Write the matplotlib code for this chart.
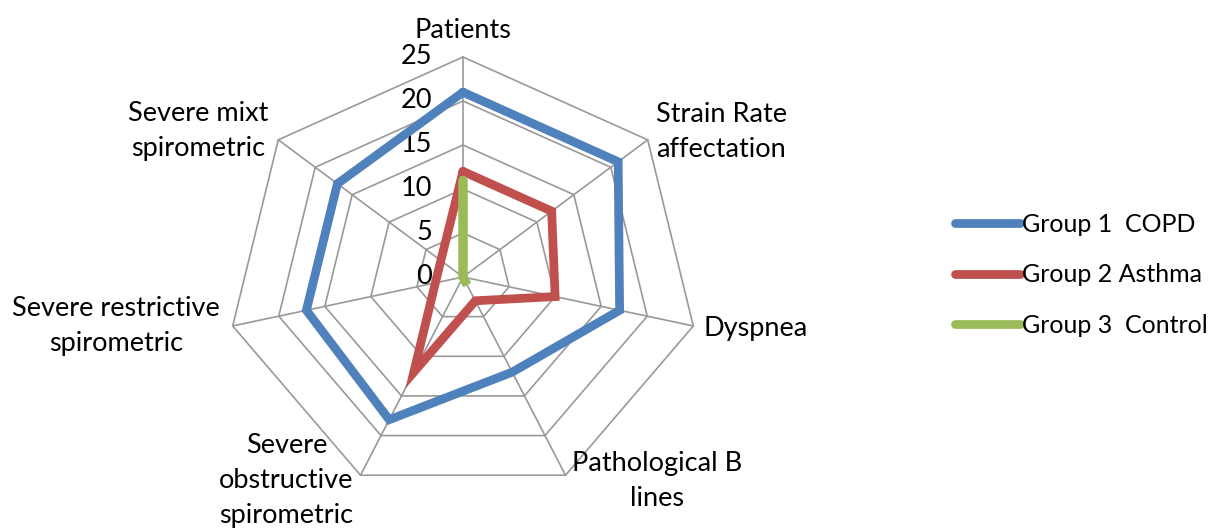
import numpy as np
import matplotlib
matplotlib.use("Agg")
import matplotlib.pyplot as plt

categories = ["Patients", "Strain Rate\naffectation", "Dyspnea",
              "Pathological B\nlines", "Severe\nobstructive\nspirometric",
              "Severe restrictive\nspirometric", "Severe mixt\nspirometric"]
copd = [21, 21, 17, 12, 18, 17, 17]
asthma = [12, 12, 10, 3, 12, 3, 3]
control = [11, 0, 0, 1, 0, 0, 0]
series_names = ["Group 1  COPD", "Group 2 Asthma", "Group 3  Control"]
series_colors = ["#4F81BD", "#C0504D", "#9BBB59"]
ticks = [0, 5, 10, 15, 20, 25]

plt.rcParams['font.family'] = ['Lato', 'DejaVu Sans']
FS = 19.5

fig = plt.figure(figsize=(12.29, 5.29), dpi=100)
# axes placed so that the chart centre sits at (463, 277) px, slightly wider than tall
ax = fig.add_axes([198.4 / 1229, (529 - 523.4) / 529, 529.2 / 1229, 492.8 / 529])
ax.set_xlim(-28, 28)
ax.set_ylim(-28, 28)
ax.set_aspect('auto')
ax.axis('off')

n = len(categories)
theta = np.arange(n) * 2 * np.pi / n
sx, sy = np.sin(theta), np.cos(theta)

def closed(a):
    return np.append(a, a[0])

grid_c = "#999999"
for t in ticks[1:]:
    ax.plot(closed(t * sx), closed(t * sy), color=grid_c, lw=1.2, zorder=1)
for i in range(n):
    ax.plot([0, ticks[-1] * sx[i]], [0, ticks[-1] * sy[i]], color=grid_c, lw=1.2, zorder=1)

for t in ticks:
    ax.text(-3.3, t, str(t), ha='right', va='center', fontsize=FS, color='black')

lines = []
for vals, name, col in zip([copd, asthma, control], series_names, series_colors):
    v = np.array(vals, dtype=float)
    ln, = ax.plot(closed(v * sx), closed(v * sy), color=col, lw=6.3,
                  solid_capstyle='round', solid_joinstyle='miter', label=name, zorder=3)
    lines.append(ln)

# label anchors (data units) and alignment
label_pos = [(0, 28.0, 'center'), (20.4, 16.5, 'left'), (25.4, -5.8, 'left'),
             (20.5, -23.2, 'center'), (-18.7, -23.1, 'center'),
             (-36.7, -5.6, 'center'), (-28.0, 16.6, 'center')]
for lab, (x, y, ha) in zip(categories, label_pos):
    ax.text(x, y, lab, ha=ha, va='center', fontsize=FS, linespacing=1.5,
            multialignment='center' if ha == 'center' else 'left', clip_on=False)

fig.legend(handles=lines, loc='center left', bbox_to_anchor=(955 / 1229, (529 - 275) / 529),
           frameon=False, fontsize=18, handlelength=2.6, handletextpad=0.1,
           labelspacing=1.1, borderpad=0, borderaxespad=0)

fig.savefig("out.png", dpi=100)
